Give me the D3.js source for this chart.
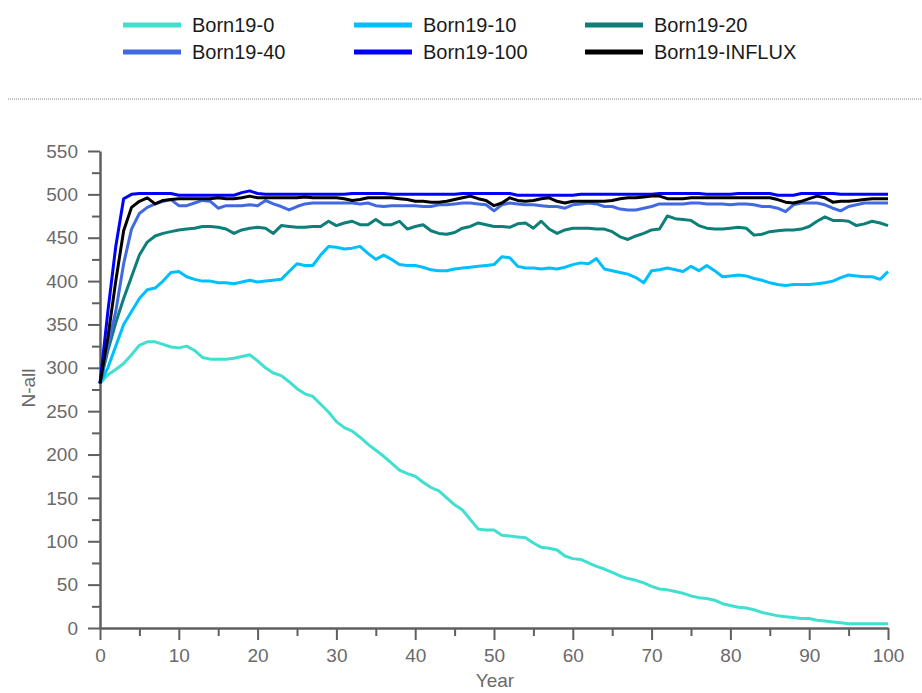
<!DOCTYPE html>
<html>
<head>
<meta charset="utf-8">
<script src="https://cdn.jsdelivr.net/npm/d3@7"></script>
<style>
  body { margin: 0; background: #fff; }
  svg { display: block; font-family: "Liberation Sans", Arial, sans-serif; }
</style>
</head>
<body>
<div id="chart"></div>
<script>
// values, one per year 0..100
const years = d3.range(0, 101);

const born0 = [282,292,298,305,315,326,330,330,327,324,323,325,320,312,310,310,310,311,313,315,
  308,300,294,291,284,276,270,267,258,249,238,231,227,220,212,205,198,190,182,178,
  175,168,162,158,150,142,136,125,114,113,113,107,106,105,104,98,93,92,90,83,
  80,79,75,71,68,64,60,57,55,52,48,45,44,42,40,37,35,34,32,28,
  26,24,23,21,18,16,14,13,12,11,11,9,8,7,6,5,5,5,5,5,5];

const born10 = [282,300,325,350,365,380,390,392,400,410,411,405,402,400,400,398,398,397,399,401,
  399,400,401,402,411,420,418,418,430,440,439,437,438,440,432,425,430,425,419,418,
  418,416,413,412,412,414,415,416,417,418,419,428,427,417,415,415,414,415,414,416,
  419,421,420,426,414,412,410,408,404,398,412,413,415,413,411,417,412,418,412,405,
  406,407,406,403,401,398,396,395,396,396,396,397,398,400,404,407,406,405,405,402,411];

const born20 = [282,320,352,380,405,430,445,452,455,457,459,460,461,463,463,462,460,455,459,461,
  462,461,455,464,463,462,462,463,463,469,464,467,469,465,465,471,465,465,469,460,
  463,465,458,455,454,456,461,463,467,465,463,463,462,466,467,461,469,460,455,459,
  461,461,461,460,460,457,451,448,452,455,459,460,475,472,471,470,464,461,460,460,
  461,462,461,453,454,457,458,459,459,460,463,469,474,470,470,469,464,466,469,467,464];

const born40 = [282,325,365,420,460,478,485,489,492,494,487,487,490,493,492,484,487,487,487,488,
  487,493,489,486,482,486,489,490,490,490,490,490,490,489,490,487,486,487,487,487,
  487,486,486,488,488,489,490,490,489,488,481,488,490,489,488,488,487,486,486,484,
  488,489,490,489,486,486,483,482,482,484,486,489,489,489,489,490,490,489,489,489,
  488,489,489,488,486,486,484,480,488,490,490,490,488,484,481,486,488,490,490,490,490];

const born100 = [282,365,440,495,500,501,501,501,501,501,499,499,499,499,499,499,499,499,502,504,
  501,500,500,500,500,500,500,500,500,500,500,500,501,501,501,501,501,500,500,500,
  500,500,500,500,500,500,501,501,501,501,501,501,501,499,499,499,499,499,499,499,
  499,500,500,500,500,500,500,500,500,500,500,501,501,501,501,501,501,500,500,500,
  500,501,501,501,501,501,499,499,499,501,501,501,501,501,500,500,500,500,500,500,500];

const bornInflux = [282,335,400,458,485,492,496,489,493,494,495,495,495,495,495,496,495,495,496,498,
  496,496,496,496,496,496,497,496,496,496,496,495,493,494,496,496,496,496,495,494,
  492,492,491,491,492,494,496,498,495,493,487,490,496,493,492,493,495,496,492,490,
  492,492,492,492,492,493,495,496,496,497,498,498,495,495,495,496,496,496,496,496,
  496,496,496,496,496,496,494,491,490,492,495,498,496,491,492,492,493,494,495,495,495];

const seriesNames = ['Born19-0', 'Born19-10', 'Born19-20', 'Born19-40', 'Born19-100', 'Born19-INFLUX'];
const seriesValues = [born0, born10, born20, born40, born100, bornInflux];
const seriesColors = ['#40E0D0', '#00BFFF', '#0E7E78', '#4169E1', '#0000FF', '#000000'];

const xTicks = [0, 10, 20, 30, 40, 50, 60, 70, 80, 90, 100];
const yTicks = [0, 50, 100, 150, 200, 250, 300, 350, 400, 450, 500, 550];

const width = 922, height = 693;
const margin = { left: 100, right: 34, top: 151, bottom: 65 };

const svg = d3.select('#chart').append('svg')
  .attr('width', width)
  .attr('height', height);

const x = d3.scaleLinear().domain([0, 100]).range([margin.left, width - margin.right]);
const y = d3.scaleLinear().domain([0, 550]).range([height - margin.bottom, margin.top]);

// legend
const legend = svg.append('g').attr('class', 'legend');
seriesNames.forEach((name, i) => {
  const col = i % 3, row = Math.floor(i / 3);
  const g = legend.append('g')
    .attr('transform', `translate(${123 + col * 231},${25 + row * 27})`);
  g.append('line')
    .attr('x1', 0).attr('x2', 58)
    .attr('stroke', seriesColors[i])
    .attr('stroke-width', 5);
  g.append('text')
    .attr('x', 69).attr('dy', '0.35em')
    .style('font-size', '20px')
    .style('fill', '#1a1a1a')
    .text(name);
});

// dotted separator under the legend
svg.append('line')
  .attr('x1', 8).attr('x2', width)
  .attr('y1', 99).attr('y2', 99)
  .attr('stroke', '#c4c0c4')
  .attr('stroke-width', 2)
  .attr('stroke-dasharray', '1,1');

// minor ticks
svg.append('g')
  .attr('transform', `translate(0,${y(0)})`)
  .call(d3.axisBottom(x).tickValues(d3.range(5, 100, 10)).tickSize(8).tickFormat(''))
  .call(g => g.select('.domain').remove())
  .call(g => g.selectAll('line').attr('stroke', '#5f5f5f').attr('stroke-width', 2));

svg.append('g')
  .attr('transform', `translate(${x(0)},0)`)
  .call(d3.axisLeft(y).tickValues(d3.range(25, 550, 50)).tickSize(8).tickFormat(''))
  .call(g => g.select('.domain').remove())
  .call(g => g.selectAll('line').attr('stroke', '#5f5f5f').attr('stroke-width', 2));

// major axes
const xAxis = svg.append('g')
  .attr('transform', `translate(0,${y(0)})`)
  .call(d3.axisBottom(x).tickValues(xTicks).tickSize(12).tickSizeOuter(0).tickPadding(9));

const yAxis = svg.append('g')
  .attr('transform', `translate(${x(0)},0)`)
  .call(d3.axisLeft(y).tickValues(yTicks).tickSize(12).tickSizeOuter(0).tickPadding(10));

[xAxis, yAxis].forEach(ax => {
  ax.select('.domain').attr('stroke', '#5f5f5f').attr('stroke-width', 2.5);
  ax.selectAll('.tick line').attr('stroke', '#5f5f5f').attr('stroke-width', 2);
  ax.selectAll('.tick text')
    .style('font-size', '19px')
    .style('font-family', '"Liberation Sans", Arial, sans-serif')
    .style('fill', '#6a6a6a');
});

// axis titles
svg.append('text')
  .attr('x', (x(0) + x(100)) / 2 + 1)
  .attr('y', 680)
  .attr('dy', '0.35em')
  .attr('text-anchor', 'middle')
  .style('font-size', '19px')
  .style('fill', '#6a6a6a')
  .text('Year');

svg.append('text')
  .attr('transform', 'translate(28,388) rotate(-90)')
  .attr('dy', '0.35em')
  .attr('text-anchor', 'middle')
  .style('font-size', '19px')
  .style('fill', '#6a6a6a')
  .text('N-all');

// lines
const line = d3.line()
  .x((d, i) => x(years[i]))
  .y(d => y(d));

svg.append('g').selectAll('path')
  .data(seriesValues)
  .enter()
  .append('path')
  .attr('d', d => line(d))
  .attr('fill', 'none')
  .attr('stroke', (d, i) => seriesColors[i])
  .attr('stroke-width', 3)
  .attr('stroke-linejoin', 'round');
</script>
</body>
</html>
